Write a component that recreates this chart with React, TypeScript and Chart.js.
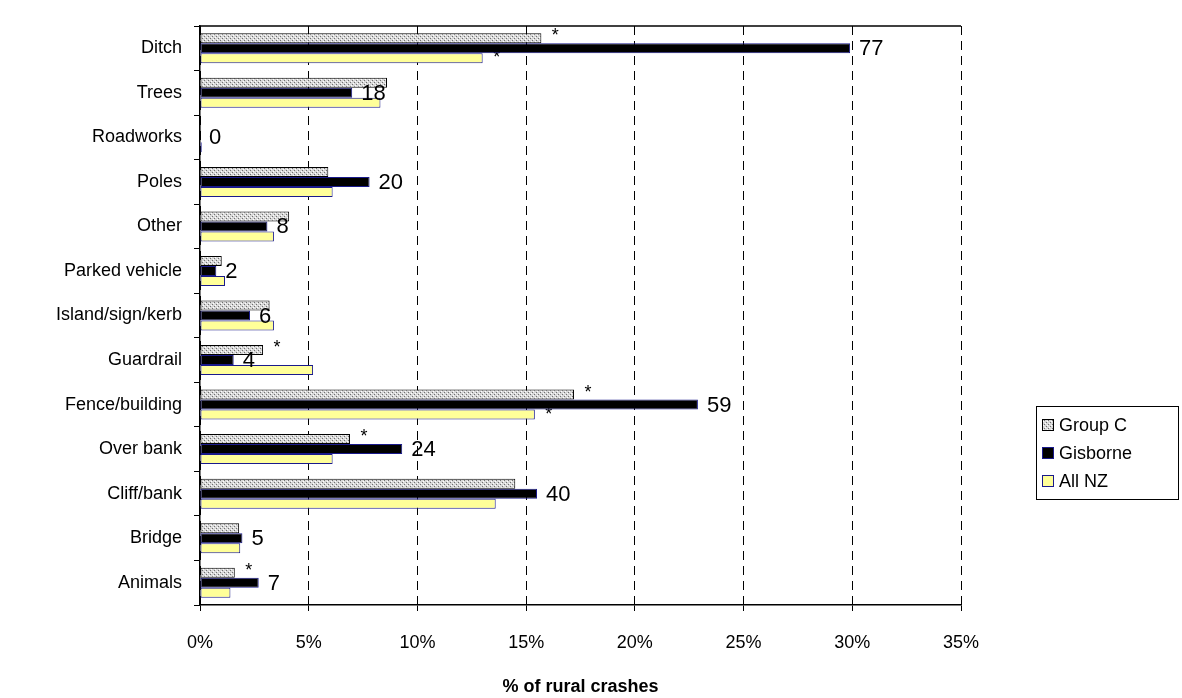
import React, { useEffect, useRef } from "react";
import { Chart, registerables } from "chart.js";

Chart.register(...registerables);

const categories = [
  "Ditch",
  "Trees",
  "Roadworks",
  "Poles",
  "Other",
  "Parked vehicle",
  "Island/sign/kerb",
  "Guardrail",
  "Fence/building",
  "Over bank",
  "Cliff/bank",
  "Bridge",
  "Animals",
];
const seriesNames = ["Group C", "Gisborne", "All NZ"];
const groupC = [15.7, 8.6, 0.05, 5.9, 4.1, 1.0, 3.2, 2.9, 17.2, 6.9, 14.5, 1.8, 1.6];
const gisborne = [29.9, 7.0, 0, 7.8, 3.1, 0.75, 2.3, 1.55, 22.9, 9.3, 15.5, 1.95, 2.7];
const allNZ = [13.0, 8.3, 0.08, 6.1, 3.4, 1.15, 3.4, 5.2, 15.4, 6.1, 13.6, 1.85, 1.4];
const gisborneCounts = [77, 18, 0, 20, 8, 2, 6, 4, 59, 24, 40, 5, 7];
const groupCStar = [true, false, false, false, false, false, false, true, true, true, false, false, true];
const allNZStar = [true, false, false, false, false, false, false, false, true, false, false, false, false];
const xMax = 35;
const xStep = 5;
const xTitle = "% of rural crashes";

const FONT = "Arial, 'Liberation Sans', Helvetica, sans-serif";
const NAVY = "#1a1a8c";

function makePattern(): CanvasPattern | string {
  const c = document.createElement("canvas");
  c.width = 4;
  c.height = 4;
  const g = c.getContext("2d");
  if (!g) return "#bbbbbb";
  g.fillStyle = "#d8d8d8";
  g.fillRect(0, 0, 4, 4);
  g.fillStyle = "#707070";
  g.fillRect(0, 0, 1, 1);
  g.fillRect(2, 2, 1, 1);
  g.fillStyle = "#ffffff";
  g.fillRect(1, 3, 1, 1);
  g.fillRect(3, 1, 1, 1);
  return g.createPattern(c, "repeat") || "#bbbbbb";
}

export default function App() {
  const ref = useRef<HTMLCanvasElement | null>(null);

  useEffect(() => {
    if (!ref.current) return;
    const pattern = makePattern();
    const fills = [pattern, "#000000", "#ffff99"];
    const borders = ["#000000", NAVY, NAVY];

    const overlay = {
      id: "overlay",
      beforeDatasetsDraw(chart: any) {
        const ctx = chart.ctx;
        const area = chart.chartArea;
        ctx.save();
        ctx.strokeStyle = "#000";
        ctx.lineWidth = 1.5;
        ctx.beginPath();
        ctx.moveTo(area.left, area.top);
        ctx.lineTo(area.right, area.top);
        ctx.stroke();
        ctx.fillStyle = "#000";
        ctx.font = `18px ${FONT}`;
        ctx.textAlign = "center";
        ctx.textBaseline = "middle";
        const starSets = [
          { ds: 0, flags: groupCStar, dy: -2 },
          { ds: 2, flags: allNZStar, dy: 0 },
        ];
        for (const s of starSets) {
          const meta = chart.getDatasetMeta(s.ds);
          meta.data.forEach((el: any, i: number) => {
            if (!s.flags[i]) return;
            ctx.fillText("*", el.x + 14, el.y + s.dy);
          });
        }
        ctx.restore();
      },
      afterDatasetsDraw(chart: any) {
        const ctx = chart.ctx;
        ctx.save();
        ctx.fillStyle = "#000";
        ctx.font = `22px ${FONT}`;
        ctx.textAlign = "left";
        ctx.textBaseline = "middle";
        const meta = chart.getDatasetMeta(1);
        meta.data.forEach((el: any, i: number) => {
          ctx.fillText(String(gisborneCounts[i]), el.x + 9, el.y + 1);
        });
        ctx.restore();
      },
      afterDraw(chart: any) {
        const ctx = chart.ctx;
        const lx = 1036;
        const ly = 406;
        const lw = 142;
        const lh = 93;
        ctx.save();
        ctx.fillStyle = "#fff";
        ctx.fillRect(lx, ly, lw, lh);
        ctx.strokeStyle = "#000";
        ctx.lineWidth = 1;
        ctx.strokeRect(lx + 0.5, ly + 0.5, lw, lh);
        ctx.font = `18px ${FONT}`;
        ctx.textAlign = "left";
        ctx.textBaseline = "middle";
        seriesNames.forEach((name, i) => {
          const cy = ly + 19 + i * 28;
          ctx.fillStyle = fills[i] as any;
          ctx.fillRect(lx + 6, cy - 6, 11, 11);
          ctx.strokeStyle = borders[i];
          ctx.strokeRect(lx + 6.5, cy - 5.5, 11, 11);
          ctx.fillStyle = "#000";
          ctx.fillText(name, lx + 23, cy + 1);
        });
        ctx.restore();
      },
    };

    const chart = new Chart(ref.current, {
      type: "bar",
      data: {
        labels: categories,
        datasets: [groupC, gisborne, allNZ].map((d, i) => ({
          label: seriesNames[i],
          data: d,
          backgroundColor: fills[i] as any,
          borderColor: borders[i],
          borderWidth: 1,
          borderSkipped: false as any,
          categoryPercentage: 0.674,
          barPercentage: 1.0,
        })),
      },
      options: {
        indexAxis: "y",
        animation: false,
        responsive: false,
        devicePixelRatio: 1,
        layout: { padding: { top: 26, right: 221, left: 0, bottom: 0 } },
        plugins: {
          legend: { display: false },
          tooltip: { enabled: false },
        },
        scales: {
          x: {
            type: "linear",
            min: 0,
            max: xMax,
            ticks: {
              stepSize: xStep,
              color: "#000",
              font: { family: FONT, size: 18 },
              padding: 21,
              callback: (v: any) => `${v}%`,
            },
            grid: {
              color: "#000",
              lineWidth: 1,
              tickLength: 6,
              tickColor: "#000",
              tickBorderDash: [],
            },
            border: { display: true, color: "#000", width: 1.5, dash: [9, 6] },
            title: {
              display: true,
              text: xTitle,
              color: "#000",
              font: { family: FONT, size: 18, weight: "bold" },
              padding: { top: 0, bottom: 0 },
            },
            afterFit: (scale: any) => {
              scale.height = 93;
            },
          },
          y: {
            type: "category",
            ticks: {
              color: "#000",
              font: { family: FONT, size: 18 },
              padding: 12,
            },
            grid: {
              display: true,
              drawOnChartArea: false,
              drawTicks: true,
              tickLength: 6,
              color: "#000",
              tickColor: "#000",
              offset: true,
            },
            border: { display: true, color: "#000", width: 1.5 },
            afterFit: (scale: any) => {
              scale.width = 200;
            },
          },
        },
      } as any,
      plugins: [overlay],
    });
    return () => chart.destroy();
  }, []);

  return (
    <div
      style={{
        position: "fixed",
        left: 0,
        top: 0,
        width: 1182,
        height: 698,
        background: "#fff",
      }}
    >
      <canvas ref={ref} width={1182} height={698} />
    </div>
  );
}
